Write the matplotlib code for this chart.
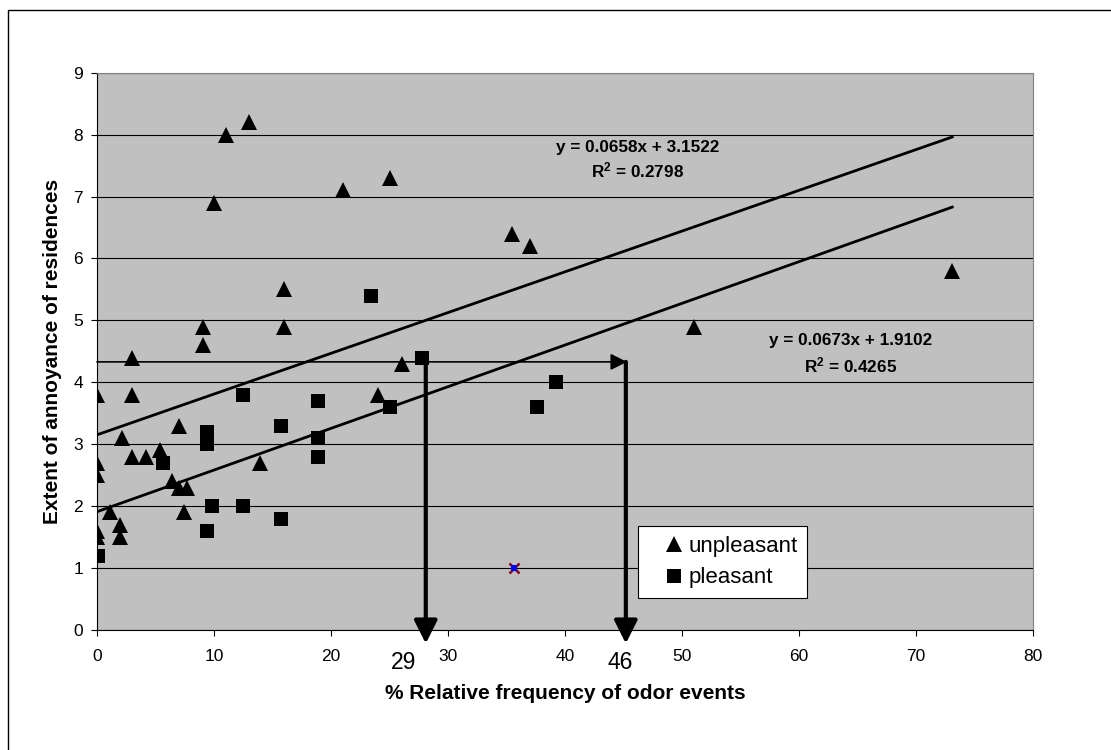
import numpy as np
import matplotlib
matplotlib.use("Agg")
import matplotlib.pyplot as plt
from matplotlib.patches import Rectangle
from matplotlib.patches import ArrowStyle

plt.rcParams['font.family'] = ['Liberation Sans', 'DejaVu Sans']
plt.rcParams['mathtext.default'] = 'regular'

# data
unpl_x = [0, 0, 0, 0, 0, 1.1, 2, 2, 2.1, 3, 3, 3, 4.2, 5.4, 6.4, 7, 7, 7.7, 7.4,
          9.1, 9.1, 10, 11, 13, 13.9, 16, 16, 21, 24, 25, 26.1, 35.5, 37, 51, 73.1]
unpl_y = [3.8, 2.7, 2.5, 1.6, 1.5, 1.9, 1.7, 1.5, 3.1, 4.4, 3.8, 2.8, 2.8, 2.9, 2.4, 3.3, 2.3, 2.3, 1.9,
          4.6, 4.9, 6.9, 8.0, 8.2, 2.7, 5.5, 4.9, 7.1, 3.8, 7.3, 4.3, 6.4, 6.2, 4.9, 5.8]
pl_x = [0.1, 5.6, 9.4, 9.4, 9.4, 9.8, 12.5, 12.5, 15.7, 15.7, 18.9, 18.9, 18.9, 23.4, 25.0, 27.8, 37.6, 39.2]
pl_y = [1.2, 2.7, 3.2, 3.0, 1.6, 2.0, 3.8, 2.0, 3.3, 1.8, 3.7, 3.1, 2.8, 5.4, 3.6, 4.4, 3.6, 4.0]
odd_x, odd_y = [35.6], [1.0]

# trend lines (from the equations on the chart)
slopes = [0.0658, 0.0673]
intercepts = [3.1522, 1.9102]
r2 = ['0.2798', '0.4265']
eq_pos = [(46.2, 7.8, 7.42), (64.4, 4.67, 4.28)]
trend_x = [0, 73.1]

# reading arrows
level_y = 4.33
arrow_x = [28.1, 45.2]
arrow_top = [4.4, 4.33]
arrow_labels = ['29', '46']
arrow_label_x = [26.2, 44.7]

fig = plt.figure(figsize=(11.11, 7.5), dpi=100)
ax = fig.add_axes([97/1111, 120/750, 936/1111, 557.3/750])
ax.set_facecolor('#c0c0c0')

ax.set_xlim(0, 80)
ax.set_ylim(0, 9)
ax.set_xticks(range(0, 81, 10))
ax.set_yticks(range(0, 10))
ax.yaxis.grid(True, color='black', lw=0.8)
ax.set_axisbelow(True)
ax.tick_params(direction='out', length=4, width=0.8, labelsize=12.5, colors='black')
ax.tick_params(axis='x', pad=10)
ax.tick_params(axis='y', pad=6)
for s in ['top', 'right']:
    ax.spines[s].set_color('#808080')
for s in ['left', 'bottom']:
    ax.spines[s].set_color('black')

for m, b in zip(slopes, intercepts):
    tx = np.array(trend_x)
    ax.plot(tx, m * tx + b, color='black', lw=2, zorder=3)

ax.plot(unpl_x, unpl_y, '^', color='black', ms=11, mew=0, label='unpleasant', zorder=4)
ax.plot(pl_x, pl_y, 's', color='black', ms=10.5, mew=0, label='pleasant', zorder=4)
ax.plot(odd_x, odd_y, 'x', color='#8b0000', ms=6.5, mew=1.8, zorder=5)
ax.plot(odd_x, odd_y, 's', color='blue', ms=4, mew=0, zorder=6)

for (ex, ey1, ey2), m, b, r in zip(eq_pos, slopes, intercepts, r2):
    ax.text(ex, ey1, f'y = {m}x + {b}', ha='center', va='center', fontsize=12.3, fontweight='bold')
    ax.text(ex, ey2, 'R$^2$ = ' + r, ha='center', va='center', fontsize=12.3, fontweight='bold')

# horizontal arrow
ax.annotate('', xy=(arrow_x[1] + 0.1, level_y), xytext=(0, level_y),
            arrowprops=dict(arrowstyle=ArrowStyle('-|>', head_length=1.0, head_width=0.5),
                            mutation_scale=10, lw=1.2, color='black', shrinkA=0, shrinkB=0),
            annotation_clip=False, zorder=5)
# vertical arrows
for x, top, lab, lx in zip(arrow_x, arrow_top, arrow_labels, arrow_label_x):
    ax.annotate('', xy=(x, -0.22), xytext=(x, top),
                arrowprops=dict(arrowstyle=ArrowStyle('-|>', head_length=1.0, head_width=0.5),
                                mutation_scale=14, lw=3, color='black', shrinkA=0, shrinkB=0),
                annotation_clip=False, zorder=5)
    ax.text(lx, -0.52, lab, ha='center', va='center', fontsize=16.5, clip_on=False)

ax.set_xlabel('% Relative frequency of odor events', fontsize=15, fontweight='bold', labelpad=14)
ax.set_ylabel('Extent of annoyance of residences', fontsize=15, fontweight='bold', labelpad=8)

leg = ax.legend(loc='upper left', bbox_to_anchor=(0.578, 0.1866), fontsize=16,
                frameon=True, fancybox=False, edgecolor='black', framealpha=1,
                handlelength=2.36, handletextpad=-0.55, labelspacing=0.47, borderpad=0.45,
                borderaxespad=0, markerscale=1.0)
leg.get_frame().set_linewidth(0.8)

fig.add_artist(Rectangle((8/1111, -0.1), 2, 1.1 - 10/750, transform=fig.transFigure,
                         fill=False, edgecolor='black', lw=1))

fig.savefig('out.png', dpi=100)
